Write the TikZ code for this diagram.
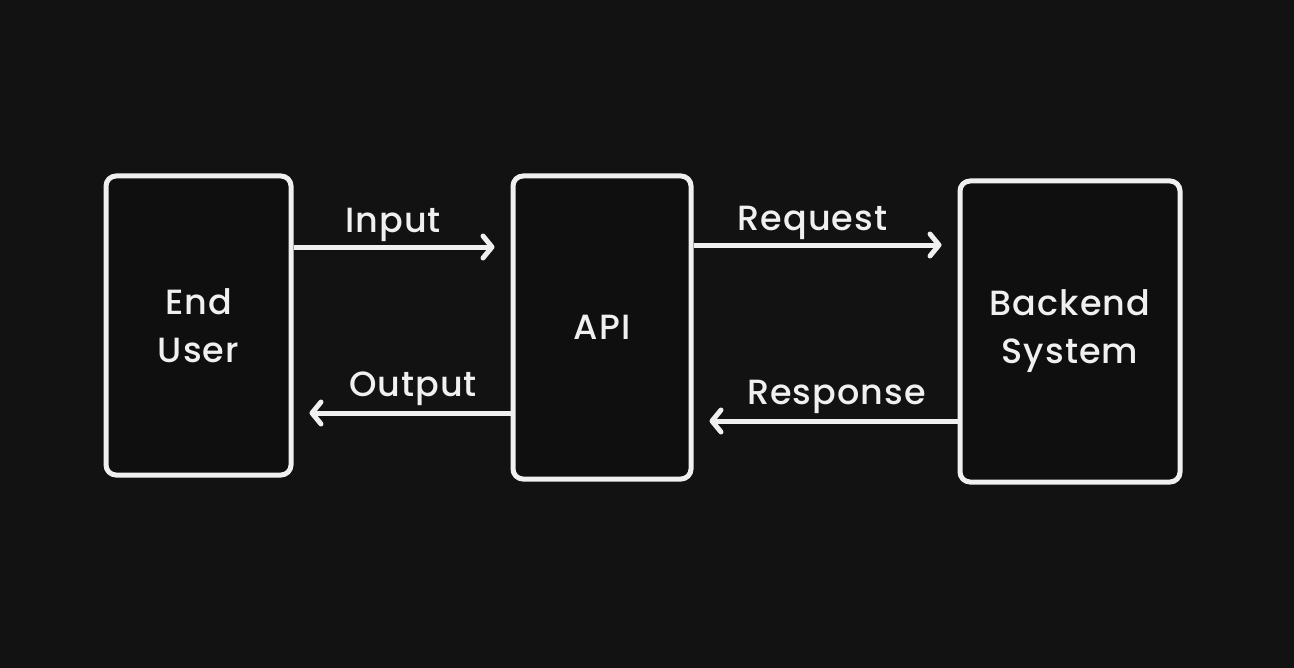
\documentclass[tikz,border=0pt]{standalone}
\usepackage{fontspec}
\setmainfont{Poppins}[UprightFont=* Medium, LetterSpace=3]
\usetikzlibrary{arrows.meta}
\definecolor{bg}{HTML}{121212}
\definecolor{boxfill}{HTML}{0F0F0F}
\definecolor{ink}{HTML}{F0F0F0}

\begin{document}
\begin{tikzpicture}[x=0.5pt, y=-0.5pt,
	box/.style={draw=ink, fill=boxfill, line width=2.5pt, rounded corners=5pt, inner sep=0pt, align=center, text=ink, font=\fontsize{17.5}{24}\selectfont},
	flow/.style={draw=ink, line width=2.5pt, -{Straight Barb[length=4.5pt, width=11pt, round]}, shorten >=8pt},
	lbl/.style={text=ink, font=\fontsize{17.5}{20}\selectfont, text depth=4pt, inner sep=2pt}]
	\fill[bg] (0,0) rectangle (1294,668);

	% the three blocks
	\node[box, minimum width=92.5pt, minimum height=149.5pt] (eu) at (198.5,325.5) {End\\User};
	\node[box, minimum width=89pt, minimum height=151.5pt] (api) at (602,327.5) {API};
	\node[box, minimum width=110pt, minimum height=150.5pt] (be) at (1070,331.5) {Backend\\System};

	% heights of the four arrows
	\coordinate (inY) at (0,247);
	\coordinate (reqY) at (0,245);
	\coordinate (outY) at (0,413);
	\coordinate (resY) at (0,421);

	\draw[flow] (eu.east |- inY) -- (api.west |- inY) node[lbl, midway, above, xshift=-4.5pt]{Input};
	\draw[flow] (api.east |- reqY) -- (be.west |- reqY) node[lbl, midway, above, xshift=-6.5pt]{Request};
	\draw[flow] (api.west |- outY) -- (eu.east |- outY) node[lbl, midway, above, xshift=5.5pt, yshift=1pt]{Output};
	\draw[flow] (be.west |- resY) -- (api.east |- resY) node[lbl, midway, above, xshift=5.5pt, yshift=1pt]{Response};
\end{tikzpicture}
\end{document}
